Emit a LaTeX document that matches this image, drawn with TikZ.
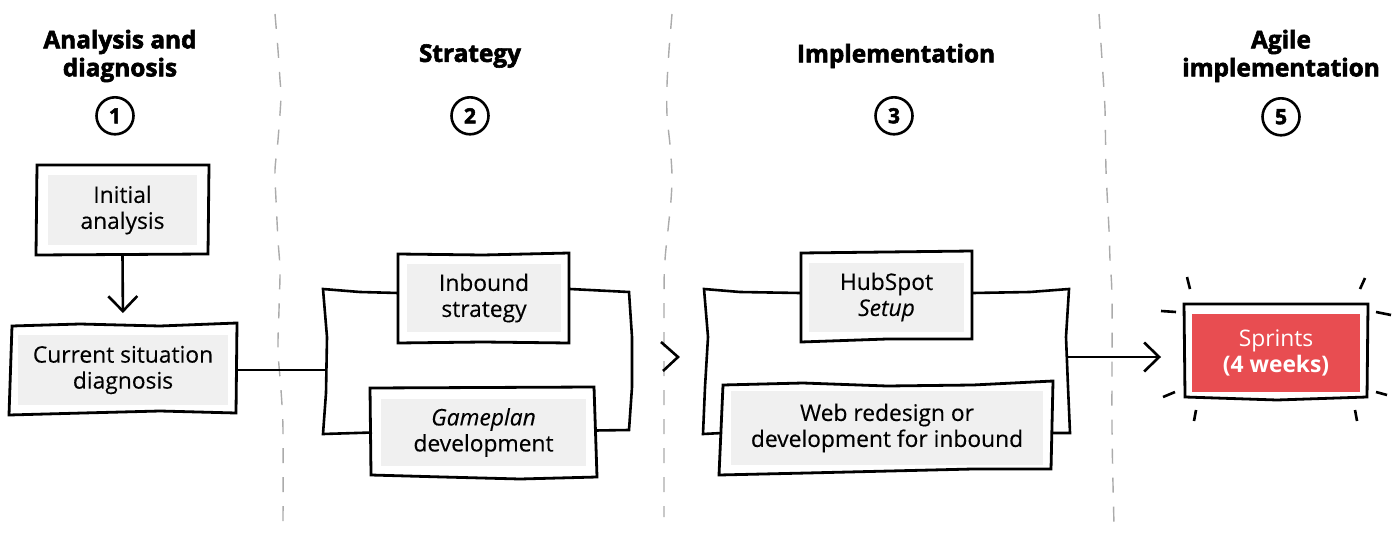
\documentclass[tikz,border=0pt]{standalone}
\usepackage{fontspec}
\setmainfont[UprightFeatures={FakeBold=0.25},ItalicFeatures={FakeBold=0.25}]{Open Sans}
\newfontfamily\headfont[BoldFeatures={FakeBold=2.4}]{Open Sans}
\newfontfamily\sprintfont{Open Sans}
\usetikzlibrary{arrows.meta,calc,positioning}
\definecolor{boxgray}{HTML}{F0F0F0}
\definecolor{sprintred}{HTML}{E84D51}
\definecolor{sepgray}{HTML}{ABABAB}

\begin{document}
\begin{tikzpicture}[x=0.5pt,y=-0.5pt,>={Straight Barb[length=7.5pt,width=14.5pt,line width=1.3pt]},align=center,
	head/.style={font=\headfont\bfseries\fontsize{12.2}{14}\selectfont,inner sep=0pt},
	numring/.style={draw,circle,line width=1.3pt,minimum size=18.5pt,inner sep=0pt,font=\headfont\bfseries\fontsize{10.5}{12}\selectfont},
	graybox/.style={fill=boxgray,inner sep=0pt,outer sep=4.5pt,font=\fontsize{11.4}{13}\selectfont},
	redbox/.style={fill=sprintred,text=white,inner sep=0pt,outer sep=4pt,minimum width=84pt,minimum height=39pt,font=\fontsize{11.4}{13}\selectfont},
	frame/.style={draw,line width=1.4pt,line join=miter},
	link/.style={draw,line width=1.3pt},
	ray/.style={draw,line width=1.3pt},
	sep/.style={draw=sepgray,line width=0.7pt,dash pattern=on 7.5pt off 7pt}]
	\useasboundingbox (0,0) rectangle (1400,534);

	% column headings
	\node[head] (head1) at (120,56) {Analysis and\\diagnosis};
	\node[head] (head2) at (470,56) {Strategy};
	\node[head] (head3) at (896,56) {Implementation};
	\node[head] (head4) at (1281,56) {Agile\\implementation};
	\node[numring,below=20pt of head1.center,xshift=-2.5pt] (num1) {1};
	\node[numring,below=20pt of head2.center] (num2) {2};
	\node[numring,below=20pt of head3.center,xshift=-1pt] (num3) {3};
	\node[numring,below=20.5pt of head4.center] (num5) {5};

	% separators
	\draw[sep] plot[smooth] coordinates {(275,14) (278,50) (280,80) (281,97) (278,140) (275,170) (276,200) (278,240) (280,270) (279,310) (278,350) (281,390) (283,430) (283,525)};
	\draw[sep] plot[smooth] coordinates {(672,14) (669,50) (667,85) (667,115) (670,145) (672,175) (671,200) (668,230) (665,260) (664,300) (664,517)};
	\draw[sep] plot[smooth] coordinates {(1099,14) (1102,60) (1105,110) (1106,170) (1109,230) (1110,260) (1112,300) (1112,430) (1114,525)};

	% boxes
	\node[graybox,minimum width=74.5pt,minimum height=35pt] (init) at (122.5,210) {Initial\\analysis};
	\node[graybox,minimum width=105pt,minimum height=35pt] (diag) at (123,370) {Current situation\\diagnosis};
	\node[graybox,minimum width=77pt,minimum height=34pt] (inbound) at (484,298) {Inbound\\strategy};
	\node[graybox,minimum width=102.5pt,minimum height=33.5pt] (gameplan) at (483.5,432.5) {\textit{Gameplan}\\development};
	\node[graybox,minimum width=77.5pt,minimum height=34.5pt] (hubspot) at (886.5,297) {HubSpot\\\textit{Setup}};
	\node[graybox,minimum width=156pt,minimum height=37pt] (web) at (887,428) {Web redesign or\\development for inbound};
	\node[redbox] (sprints) at (1276,353) {{\sprintfont Sprints}\\\textbf{(4 weeks)}};

	% hand drawn frames
	\draw[frame] (37,165) -- (209,165) -- (208,254) -- (36,255) -- cycle;
	\draw[frame] (12,326) -- (80,324) -- (160,326) -- (237,323) -- (236,413) -- (160,411) -- (83,413) -- (9,415) -- cycle;
	\draw[frame] (398,254) -- (483,255) -- (569,253) -- (569,343) -- (483,342) -- (398,343) -- cycle;
	\draw[frame] (370,388) -- (594,387) -- (597,477) -- (520,479) -- (443,477) -- (371,475) -- cycle;
	\draw[frame] (801,253) -- (972,251) -- (972,339) -- (887,339) -- (801,342) -- cycle;
	\draw[frame] (723,385) -- (803,383) -- (887,386) -- (973,385) -- (1053,381) -- (1051,469) -- (973,469) -- (807,473) -- (719,475) -- cycle;
	\draw[frame] (1184,304) -- (1368,304) -- (1367,397) -- (1277,400) -- (1185,397) -- cycle;

	% brackets
	\coordinate (joinA) at (327,370);
	\coordinate (joinB) at (1067,357);
	\path[link] ([yshift=2.5pt]inbound.west) -- (360,292) -- (323,289) -- (327,337) -- (326,393) -- (323,434) -- (gameplan.west);
	\path[link] ([yshift=4.5pt]inbound.east) -- (629,292) -- (632,337) -- (632,387) -- (629,430) -- ([yshift=1pt]gameplan.east);
	\path[link] ([yshift=2pt]hubspot.west) -- (740,292) -- (704,289) -- (708,337) -- (705,387) -- (703,434) -- ([yshift=-2.5pt]web.west);
	\path[link] ([yshift=2pt]hubspot.east) -- (1030,292) -- (1069,289) -- (1066,337) -- (1068,387) -- (1070,433) -- ([yshift=-2.5pt]web.east);

	% connectors
	\path[->,line width=1.3pt]
		(init.south) edge [shorten >=6.5pt] (diag.north)
		(joinB) edge [shorten >=11.5pt] (joinB -| sprints.west);
	\path[line width=1.3pt]
		(diag.east) edge (joinA);
	\draw[link] (661,342) -- (678,357) -- (663,371);

	% rays around the sprint box
	\foreach \xa/\ya/\xb/\yb in {1187/277/1190/289,1365/278/1360/289,1161/311/1176/312,1376/312/1391/315,1163/397/1175/392,1376/392/1387/395,1196/410/1194/421,1355/410/1357/421}
		\draw[ray] (\xa,\ya) -- (\xb,\yb);
\end{tikzpicture}
\end{document}
